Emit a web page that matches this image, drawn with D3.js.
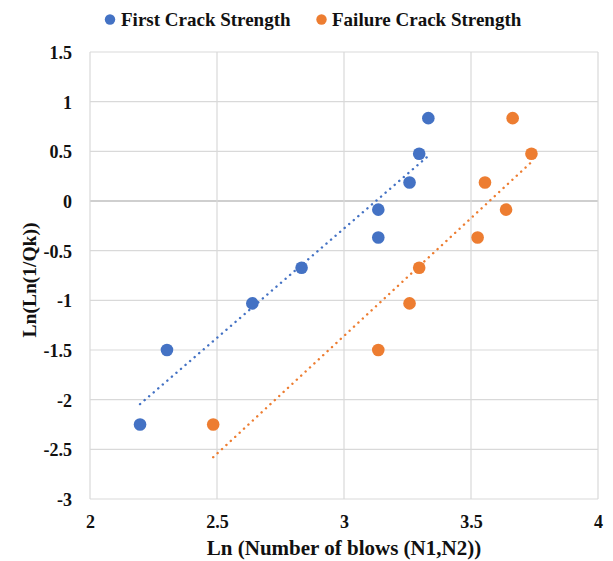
<!DOCTYPE html>
<html>
<head>
<meta charset="utf-8">
<script src="https://cdn.jsdelivr.net/npm/d3@7"></script>
<style>
  body { margin: 0; background: #fff; }
</style>
</head>
<body>
<svg id="chart" width="613" height="561"></svg>
<script>
// Weibull plot: ln(number of blows) vs ln(ln(1/Qk))
const seriesNames = ["First Crack Strength", "Failure Crack Strength"];
const seriesColors = ["#4472c4", "#ed7d31"];

const firstCrackX = [2.197, 2.303, 2.639, 2.833, 3.135, 3.135, 3.258, 3.296, 3.332];
const firstCrackY = [-2.250, -1.500, -1.031, -0.672, -0.367, -0.087, 0.186, 0.476, 0.834];

const failureX = [2.485, 3.135, 3.258, 3.296, 3.526, 3.638, 3.555, 3.738, 3.664];
const failureY = [-2.250, -1.500, -1.031, -0.672, -0.367, -0.087, 0.186, 0.476, 0.834];

const xTicks = [2, 2.5, 3, 3.5, 4];
const yTicks = [1.5, 1, 0.5, 0, -0.5, -1, -1.5, -2, -2.5, -3];

const FONT = '"Liberation Serif", "Times New Roman", serif';
const INK = "#111";

const svg = d3.select("#chart");
const plot = { left: 90, top: 52, right: 598, bottom: 499 };

const x = d3.scaleLinear().domain([2, 4]).range([plot.left, plot.right]);
const y = d3.scaleLinear().domain([-3, 1.5]).range([plot.bottom, plot.top]);

// gridlines
const grid = svg.append("g");
grid.selectAll("line.h").data(yTicks).join("line")
  .attr("x1", plot.left).attr("x2", plot.right)
  .attr("y1", d => y(d)).attr("y2", d => y(d))
  .attr("stroke", d => d === 0 ? "#bfbfbf" : "#d9d9d9")
  .attr("stroke-width", d => d === 0 ? 1.5 : 1.2);
grid.selectAll("line.v").data(xTicks).join("line")
  .attr("y1", plot.top).attr("y2", plot.bottom)
  .attr("x1", d => x(d)).attr("x2", d => x(d))
  .attr("stroke", "#d9d9d9").attr("stroke-width", 1.2);

const fmt = d => String(d);

// axes (labels only)
const yAxis = svg.append("g")
  .attr("transform", `translate(${plot.left},0)`)
  .call(d3.axisLeft(y).tickValues(yTicks).tickSize(0).tickPadding(18).tickFormat(fmt));
yAxis.select(".domain").remove();
yAxis.selectAll("text")
  .style("font-family", FONT).style("font-weight", "bold").style("font-size", "18px")
  .style("fill", INK).attr("dy", "0.36em");

const xAxis = svg.append("g")
  .attr("transform", `translate(0,${plot.bottom})`)
  .call(d3.axisBottom(x).tickValues(xTicks).tickSize(0).tickPadding(0).tickFormat(fmt));
xAxis.select(".domain").remove();
xAxis.selectAll("text")
  .style("font-family", FONT).style("font-weight", "bold").style("font-size", "18px")
  .style("fill", INK).attr("y", 29).attr("dy", 0);

// linear trendlines (least squares)
function fit(xs, ys) {
  const mx = d3.mean(xs), my = d3.mean(ys);
  let sxy = 0, sxx = 0;
  xs.forEach((v, i) => { sxy += (v - mx) * (ys[i] - my); sxx += (v - mx) * (v - mx); });
  const b = sxy / sxx;
  return { a: my - b * mx, b };
}

const series = [
  { xs: firstCrackX, ys: firstCrackY },
  { xs: failureX, ys: failureY }
];

series.forEach((s, i) => {
  const f = fit(s.xs, s.ys);
  const x0 = d3.min(s.xs), x1 = d3.max(s.xs);
  svg.append("line")
    .attr("x1", x(x0)).attr("y1", y(f.a + f.b * x0))
    .attr("x2", x(x1)).attr("y2", y(f.a + f.b * x1))
    .attr("stroke", seriesColors[i])
    .attr("stroke-width", 2.4)
    .attr("stroke-linecap", "round")
    .attr("stroke-dasharray", "0.1 5.9");
});

series.forEach((s, i) => {
  svg.append("g").selectAll("circle")
    .data(s.xs.map((v, j) => [v, s.ys[j]]))
    .join("circle")
    .attr("cx", d => x(d[0])).attr("cy", d => y(d[1]))
    .attr("r", 6.3)
    .attr("fill", seriesColors[i]);
});

// legend
const legend = svg.append("g");
const legendItems = [
  { cx: 110, tx: 121 },
  { cx: 321.5, tx: 332 }
];
seriesNames.forEach((name, i) => {
  legend.append("circle").attr("cx", legendItems[i].cx).attr("cy", 19.5).attr("r", 5.2).attr("fill", seriesColors[i]);
  legend.append("text").attr("x", legendItems[i].tx).attr("y", 26)
    .style("font-family", FONT).style("font-weight", "bold").style("font-size", "19px").style("fill", INK)
    .text(name);
});

// axis titles
svg.append("text")
  .attr("x", (plot.left + plot.right) / 2).attr("y", 555)
  .attr("text-anchor", "middle")
  .style("font-family", FONT).style("font-weight", "bold").style("font-size", "21px").style("fill", INK)
  .text("Ln (Number of blows (N1,N2))");

svg.append("text")
  .attr("transform", `translate(36,280) rotate(-90)`)
  .attr("text-anchor", "middle")
  .style("font-family", FONT).style("font-weight", "bold").style("font-size", "19.5px").style("fill", INK)
  .text("Ln(Ln(1/Qk))");
</script>
</body>
</html>
